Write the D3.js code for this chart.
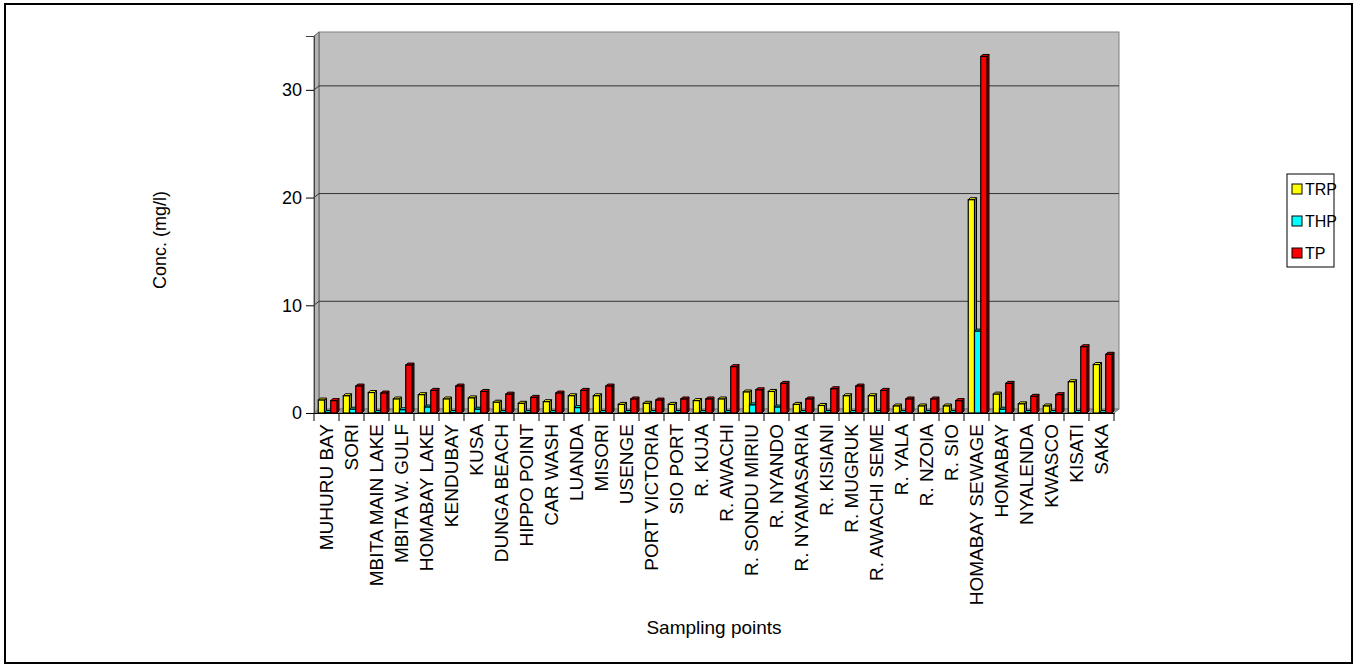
<!DOCTYPE html>
<html>
<head>
<meta charset="utf-8">
<script src="https://cdn.jsdelivr.net/npm/d3@7"></script>
<style>
  body { margin: 0; background: #fff; }
  text { font-family: "Liberation Sans", Arial, sans-serif; fill: #000; }
</style>
</head>
<body>
<svg id="chart" width="1356" height="668"></svg>
<script>
// Phosphorus concentrations (mg/l) per sampling point
const categories = [
  "MUHURU BAY", "SORI", "MBITA MAIN LAKE", "MBITA W. GULF", "HOMABAY LAKE",
  "KENDUBAY", "KUSA", "DUNGA BEACH", "HIPPO POINT", "CAR WASH", "LUANDA",
  "MISORI", "USENGE", "PORT VICTORIA", "SIO PORT", "R. KUJA", "R. AWACHI",
  "R. SONDU MIRIU", "R. NYANDO", "R. NYAMASARIA", "R. KISIANI", "R. MUGRUK",
  "R. AWACHI SEME", "R. YALA", "R. NZOIA", "R. SIO", "HOMABAY SEWAGE",
  "HOMABAY", "NYALENDA", "KWASCO", "KISATI", "SAKA"
];
const seriesNames = ["TRP", "THP", "TP"];
const trp = [1.2, 1.6, 1.9, 1.3, 1.7, 1.3, 1.4, 1.0, 0.9, 1.05, 1.6, 1.6, 0.8, 0.9, 0.8, 1.15,
             1.3, 1.95, 2.0, 0.8, 0.7, 1.6, 1.6, 0.65, 0.65, 0.65, 19.8, 1.75, 0.85, 0.65, 2.9, 4.5];
const thp = [0.05, 0.35, 0.05, 0.3, 0.55, 0.05, 0.35, 0.05, 0.05, 0.05, 0.5, 0.05, 0.05, 0.05, 0.05, 0.05,
             0.05, 0.75, 0.55, 0.05, 0.05, 0.05, 0.05, 0.05, 0.05, 0.05, 7.6, 0.35, 0.05, 0.05, 0.05, 0.05];
const tp  = [1.15, 2.5, 1.85, 4.45, 2.1, 2.5, 2.0, 1.75, 1.45, 1.85, 2.1, 2.5, 1.3, 1.2, 1.3, 1.3,
             4.3, 2.15, 2.75, 1.3, 2.25, 2.5, 2.1, 1.3, 1.3, 1.15, 33.1, 2.75, 1.55, 1.7, 6.15, 5.45];
const yTicks = [0, 10, 20, 30];
const seriesColors = ["#FFFF00", "#00FFFF", "#FF0000"];
const sideColors = ["#8A8A00", "#008A8A", "#8A0000"];

const values = [trp, thp, tp];
const svg = d3.select("#chart");

// Plot frame geometry (front face of the 3D box and depth of the back wall)
const plotLeft = 314, plotRight = 1114, plotBase = 413, plotTop = 36;
const wallDx = 5, wallDy = -4;
const barDepth = 2;

const x0 = d3.scaleBand().domain(categories).range([plotLeft, plotRight]).padding(0);
const x1 = d3.scaleBand().domain(seriesNames)
  .range([x0.bandwidth() * 0.17, x0.bandwidth() * 0.92]).padding(0);
const y = d3.scaleLinear().domain([0, 35]).range([plotBase, plotTop]);

// Outer chart border
svg.append("rect").attr("x", 5).attr("y", 4).attr("width", 1347).attr("height", 659)
  .attr("fill", "none").attr("stroke", "#000").attr("stroke-width", 2);

// Back wall
svg.append("rect")
  .attr("x", plotLeft + wallDx).attr("y", plotTop + wallDy)
  .attr("width", plotRight - plotLeft).attr("height", plotBase - plotTop)
  .attr("fill", "#C0C0C0").attr("stroke", "#808080");

// Left side wall
svg.append("polygon")
  .attr("points", [[plotLeft, plotTop], [plotLeft + wallDx, plotTop + wallDy], [plotLeft + wallDx, plotBase + wallDy], [plotLeft, plotBase]].join(" "))
  .attr("fill", "#B4B4B4").attr("stroke", "#606060");

// Floor
svg.append("polygon")
  .attr("points", [[plotLeft, plotBase], [plotLeft + wallDx, plotBase + wallDy], [plotRight + wallDx, plotBase + wallDy], [plotRight, plotBase]].join(" "))
  .attr("fill", "#A0A0A0").attr("stroke", "#808080");

// Gridlines running across the left wall and back wall
const grid = svg.append("g");
yTicks.filter(t => t > 0).forEach(t => {
  const yy = y(t);
  grid.append("polyline")
    .attr("points", [[plotLeft, yy], [plotLeft + wallDx, yy + wallDy], [plotRight + wallDx, yy + wallDy]].join(" "))
    .attr("fill", "none").attr("stroke", "#333").attr("stroke-width", 1);
});

// Y axis
const yAxis = d3.axisLeft(y).tickValues(yTicks).tickSize(8).tickPadding(4);
const gy = svg.append("g").attr("transform", `translate(${plotLeft},0)`).call(yAxis);
gy.select(".domain").attr("stroke", "#404040");
gy.selectAll(".tick line").attr("stroke", "#000");
gy.selectAll(".tick text").style("font-size", "18px").attr("fill", "#000");

// X axis with tick marks at category boundaries
const xAxis = d3.axisBottom(x0).tickSize(0).tickPadding(0);
const gx = svg.append("g").attr("transform", `translate(0,${plotBase})`).call(xAxis);
gx.select(".domain").attr("stroke", "#000");
gx.selectAll(".tick text")
  .style("font-size", "19px")
  .attr("text-anchor", "end")
  .attr("transform", "translate(0,11) rotate(-90)")
  .attr("x", 0).attr("y", 0).attr("dy", "0.35em");
const boundaries = categories.map(c => x0(c)).concat([plotRight]);
svg.append("g").selectAll("line").data(boundaries).join("line")
  .attr("x1", d => d).attr("x2", d => d)
  .attr("y1", plotBase).attr("y2", plotBase + 8)
  .attr("stroke", "#000");

// 3D bars
const bars = svg.append("g");
categories.forEach((cat, i) => {
  seriesNames.forEach((s, j) => {
    const v = values[j][i];
    const bx = x0(cat) + x1(s);
    const bw = x1.bandwidth();
    const by = y(v);
    const g = bars.append("g");
    g.append("polygon")
      .attr("points", [[bx + bw, by], [bx + bw + barDepth, by - barDepth], [bx + bw + barDepth, plotBase - barDepth], [bx + bw, plotBase]].join(" "))
      .attr("fill", sideColors[j]).attr("stroke", "#000").attr("stroke-width", 1);
    g.append("polygon")
      .attr("points", [[bx, by], [bx + barDepth, by - barDepth], [bx + bw + barDepth, by - barDepth], [bx + bw, by]].join(" "))
      .attr("fill", seriesColors[j]).attr("stroke", "#000").attr("stroke-width", 1);
    g.append("rect")
      .attr("x", bx).attr("y", by).attr("width", bw).attr("height", plotBase - by)
      .attr("fill", seriesColors[j]).attr("stroke", "#000").attr("stroke-width", 1.2);
  });
});

// Axis titles
svg.append("text")
  .attr("transform", "translate(166,240) rotate(-90)")
  .attr("text-anchor", "middle")
  .style("font-size", "18px")
  .text("Conc. (mg/l)");
svg.append("text")
  .attr("x", 714).attr("y", 634)
  .attr("text-anchor", "middle")
  .style("font-size", "19px")
  .text("Sampling points");

// Legend
const legend = svg.append("g");
legend.append("rect").attr("x", 1287).attr("y", 174).attr("width", 47).attr("height", 93)
  .attr("fill", "#fff").attr("stroke", "#000");
seriesNames.forEach((s, j) => {
  const ly = 189 + j * 32;
  legend.append("rect").attr("x", 1292).attr("y", ly - 5).attr("width", 10).attr("height", 10)
    .attr("fill", seriesColors[j]).attr("stroke", "#000");
  legend.append("text").attr("x", 1305).attr("y", ly).attr("dy", "0.35em")
    .style("font-size", "16px").text(s);
});
</script>
</body>
</html>
